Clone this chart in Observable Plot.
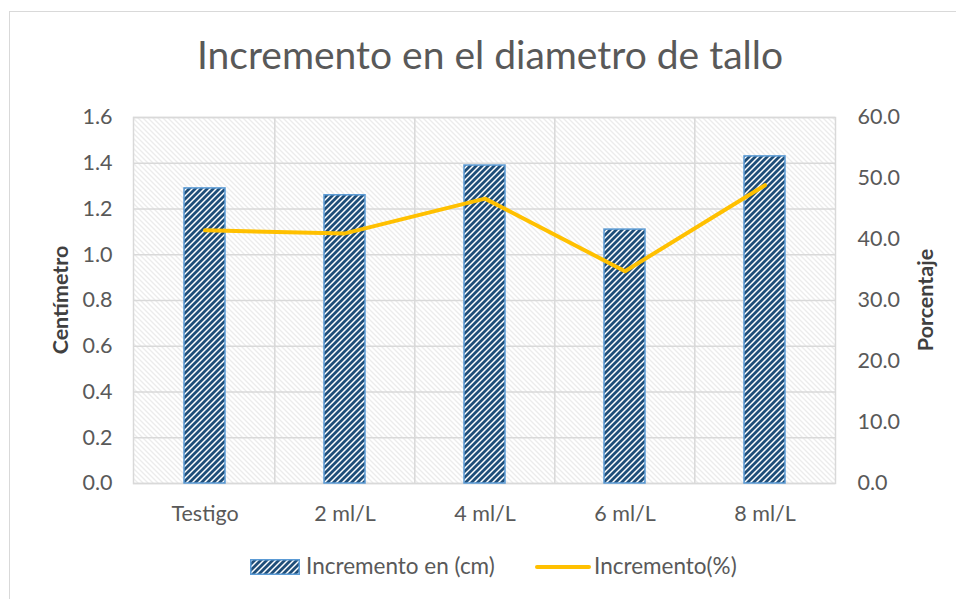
<!DOCTYPE html>
<html>
<head>
<meta charset="utf-8">
<script src="https://cdn.jsdelivr.net/npm/d3@7"></script>
<script src="https://cdn.jsdelivr.net/npm/@observablehq/plot@0.6"></script>
<style>
  html, body { margin: 0; padding: 0; background: #fff; }
  #wrap { position: relative; width: 956px; height: 599px; overflow: hidden; font-family: Lato, "Open Sans", sans-serif; color: #595959; }
  #border { position: absolute; left: 9px; top: 11px; width: 1000px; height: 700px; border: 1.5px solid #d9d9d9; box-sizing: border-box; }
  #chart { position: absolute; left: 0; top: 0; }
  .title { position: absolute; left: 0; width: 980px; top: 31px; text-align: center; font-size: 39px; color: #595959; }
  .ytitle { position: absolute; font-weight: bold; font-size: 21.5px; color: #404040; transform: rotate(-90deg); transform-origin: center; white-space: nowrap; }
  .legend { position: absolute; top: 553px; left: 0; font-size: 22.5px; color: #595959; white-space: nowrap; }
  .legend span { position: absolute; }
  .legend svg { display: block; }
</style>
</head>
<body>
<div id="wrap">
  <div id="border"></div>
  <div id="chart"></div>
  <div class="title">Incremento en el diametro de tallo</div>
  <div class="ytitle" id="yl">Centímetro</div>
  <div class="ytitle" id="yr">Porcentaje</div>
  <div class="legend">
    <span style="left:250px; top:6px;"><svg width="50" height="16"><rect x="0.75" y="0.75" width="48.5" height="14.5" fill="url(#barHatchL)" stroke="#5b9bd5" stroke-width="1.5"/>
      <defs><pattern id="barHatchL" patternUnits="userSpaceOnUse" width="6" height="6"><rect width="6" height="6" fill="#fff"/><path d="M-1,1 l2,-2 M0,6 l6,-6 M5,7 l2,-2" stroke="#1f4e79" stroke-width="2.8"/></pattern></defs></svg></span>
    <span style="left:535px; top:6px;"><svg width="56" height="16"><line x1="2" y1="8" x2="54" y2="8" stroke="#ffc000" stroke-width="4" stroke-linecap="round"/></svg></span>
    <span style="left:306px; top:-1px;">Incremento en (cm)</span>
    <span style="left:594px; top:-1px;">Incremento(%)</span>
  </div>
</div>
<script>
const categories = ["Testigo", "2 ml/L", "4 ml/L", "6 ml/L", "8 ml/L"];
const incrementoCm = [1.29, 1.26, 1.39, 1.11, 1.43];
const incrementoPct = [41.5, 41.0, 46.7, 34.8, 48.9];
const cmTicks = [0, 0.2, 0.4, 0.6, 0.8, 1.0, 1.2, 1.4, 1.6];
const pctTicks = [0, 10, 20, 30, 40, 50, 60];

const cmMax = 1.6, pctMax = 60;
const data = categories.map((c, i) => ({cat: c, cm: incrementoCm[i], pct: incrementoPct[i]}));

const W = 956, H = 599;
const mL = 133, mR = 121, mT = 117, mB = 116;
const step = (W - mL - mR) / categories.length;
const fs = 21.5;

const chart = Plot.plot({
  width: W, height: H,
  marginLeft: mL, marginRight: mR, marginTop: mT, marginBottom: mB,
  style: {fontFamily: "Lato, 'Open Sans', sans-serif", fontSize: fs + "px", color: "#595959", background: "transparent", overflow: "visible"},
  x: {domain: categories, paddingInner: 0.71, paddingOuter: 0.355, align: 0.5, label: null},
  y: {domain: [0, cmMax], label: null},
  marks: [
    Plot.frame({fill: "url(#bgHatch)", stroke: "none"}),
    Plot.gridY(cmTicks, {stroke: "#d9d9d9", strokeOpacity: 1, strokeWidth: 1.5}),
    Plot.ruleX(categories.slice(1), {stroke: "#d9d9d9", strokeWidth: 1.5, dx: -step / 2}),
    Plot.frame({stroke: "#d9d9d9", strokeWidth: 1.5}),
    Plot.barY(data, {x: "cat", y: "cm", fill: "url(#barHatch)", stroke: "#5b9bd5", strokeWidth: 1.5, inset: 0}),
    Plot.line(data, {x: "cat", y: d => d.pct / pctMax * cmMax, stroke: "#ffc000", strokeWidth: 4, strokeLinejoin: "round", strokeLinecap: "round"}),
    Plot.axisY(cmTicks, {anchor: "left", tickSize: 0, tickPadding: 21, tickFormat: d => d.toFixed(1), fill: "#595959", fontSize: fs, label: null}),
    Plot.axisY(pctTicks.map(p => p / pctMax * cmMax), {anchor: "right", tickSize: 0, tickPadding: 22, tickFormat: d => (d / cmMax * pctMax).toFixed(1), fill: "#595959", fontSize: fs, label: null}),
    Plot.axisX(categories, {tickSize: 0, tickPadding: 22, fill: "#595959", fontSize: fs, label: null})
  ]
});

const svg = d3.select(chart);
const defs = svg.insert("defs", ":first-child");
const bg = defs.append("pattern").attr("id", "bgHatch").attr("patternUnits", "userSpaceOnUse").attr("width", 5).attr("height", 5);
bg.append("rect").attr("width", 5).attr("height", 5).attr("fill", "#fff");
bg.append("path").attr("d", "M-1,-1 L6,6 M-1,4 L1,6 M4,-1 L6,1").attr("stroke", "#d9d9d9").attr("stroke-width", 1);
const bh = defs.append("pattern").attr("id", "barHatch").attr("patternUnits", "userSpaceOnUse").attr("width", 6).attr("height", 6);
bh.append("rect").attr("width", 6).attr("height", 6).attr("fill", "#fff");
bh.append("path").attr("d", "M-1,1 l2,-2 M0,6 l6,-6 M5,7 l2,-2").attr("stroke", "#1f4e79").attr("stroke-width", 2.8);

document.getElementById("chart").appendChild(chart);

const yl = document.getElementById("yl");
const yr = document.getElementById("yr");
const cy = mT + (H - mT - mB) / 2;
function place(el, cx) {
  const w = el.offsetWidth, h = el.offsetHeight;
  el.style.left = (cx - w / 2) + "px";
  el.style.top = (cy - h / 2) + "px";
}
place(yl, 60);
place(yr, 925);
</script>
</body>
</html>
